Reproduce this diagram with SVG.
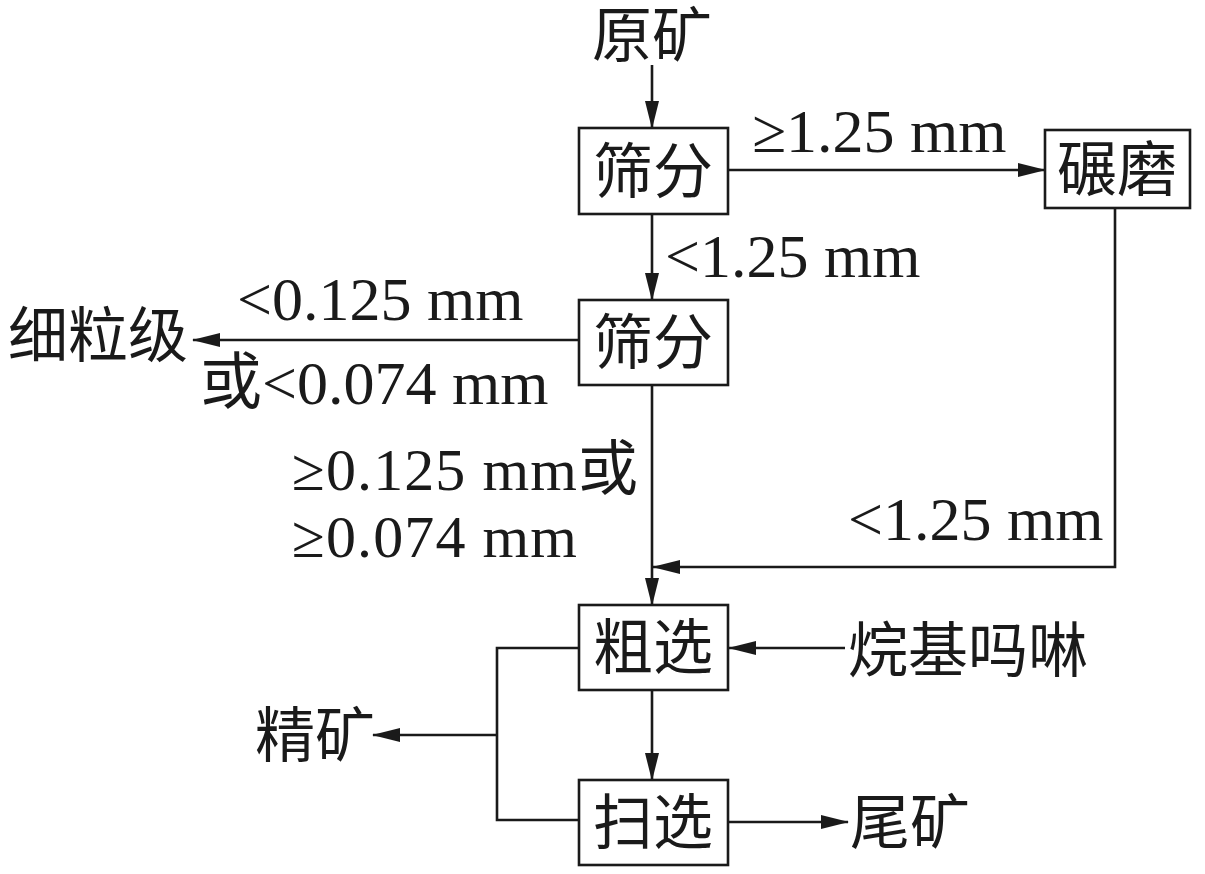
<svg xmlns="http://www.w3.org/2000/svg" width="1205" height="874" viewBox="0 0 1205 874">
<style>
.box{fill:#fff;stroke:#1a1a1a;stroke-width:2.6}
.ln{fill:none;stroke:#1a1a1a;stroke-width:2.6}
.t{font-family:"Liberation Serif","Noto Sans CJK SC",serif;font-size:60px;fill:#1a1a1a}
.l{font-size:62px}
.c{text-anchor:middle}
</style>
<defs>
<marker id="arr" markerUnits="userSpaceOnUse" markerWidth="28" markerHeight="16" refX="27" refY="8" orient="auto">
<path d="M0,1 L28,8 L0,15 z" fill="#1a1a1a"/>
</marker>
</defs>
<rect width="1205" height="874" fill="#fff"/>
<g id="connectors">
<path class="ln" d="M652,65 L652,128" marker-end="url(#arr)"/>
<path class="ln" d="M728,170 L1045,170" marker-end="url(#arr)"/>
<path class="ln" d="M652,214 L652,300" marker-end="url(#arr)"/>
<path class="ln" d="M579,340 L193,340" marker-end="url(#arr)"/>
<path class="ln" d="M652,385 L652,605" marker-end="url(#arr)"/>
<path class="ln" d="M1115,208 L1115,567 L653,567" marker-end="url(#arr)"/>
<path class="ln" d="M845,648 L729,648" marker-end="url(#arr)"/>
<path class="ln" d="M652,690 L652,780" marker-end="url(#arr)"/>
<path class="ln" d="M579,648 L497,648 L497,820 L579,820"/>
<path class="ln" d="M497,735 L373,735" marker-end="url(#arr)"/>
<path class="ln" d="M728,822 L848,822" marker-end="url(#arr)"/>
<text class="t l" x="752" y="152">≥1.25 mm</text>
<text class="t l" x="665" y="277">&lt;1.25 mm</text>
<text class="t l" x="237" y="320">&lt;0.125 mm</text>
<text class="t l" x="200" y="404">或&lt;0.074 mm</text>
<text class="t" x="292" y="490" textLength="346">≥0.125 mm或</text>
<text class="t" x="292" y="557" textLength="285">≥0.074 mm</text>
<text class="t l" x="848" y="540">&lt;1.25 mm</text>
</g>
<g id="n-yuankuang"><text class="t c" x="652" y="57">原矿</text></g>
<g id="n-shaifen1"><rect class="box" x="579" y="128" width="149" height="86"/><text class="t c" x="653" y="193">筛分</text></g>
<g id="n-nianmo"><rect class="box" x="1045" y="130" width="145" height="78"/><text class="t c" x="1117" y="191">碾磨</text></g>
<g id="n-shaifen2"><rect class="box" x="579" y="300" width="149" height="85"/><text class="t c" x="653" y="364">筛分</text></g>
<g id="n-xiliji"><text class="t" x="8" y="357">细粒级</text></g>
<g id="n-cuxuan"><rect class="box" x="579" y="605" width="149" height="85"/><text class="t c" x="653" y="669">粗选</text></g>
<g id="n-wanji"><text class="t" x="848" y="672">烷基吗啉</text></g>
<g id="n-jingkuang"><text class="t" x="255" y="757">精矿</text></g>
<g id="n-saoxuan"><rect class="box" x="579" y="780" width="149" height="85"/><text class="t c" x="653" y="844">扫选</text></g>
<g id="n-weikuang"><text class="t" x="850" y="844">尾矿</text></g>
</svg>
